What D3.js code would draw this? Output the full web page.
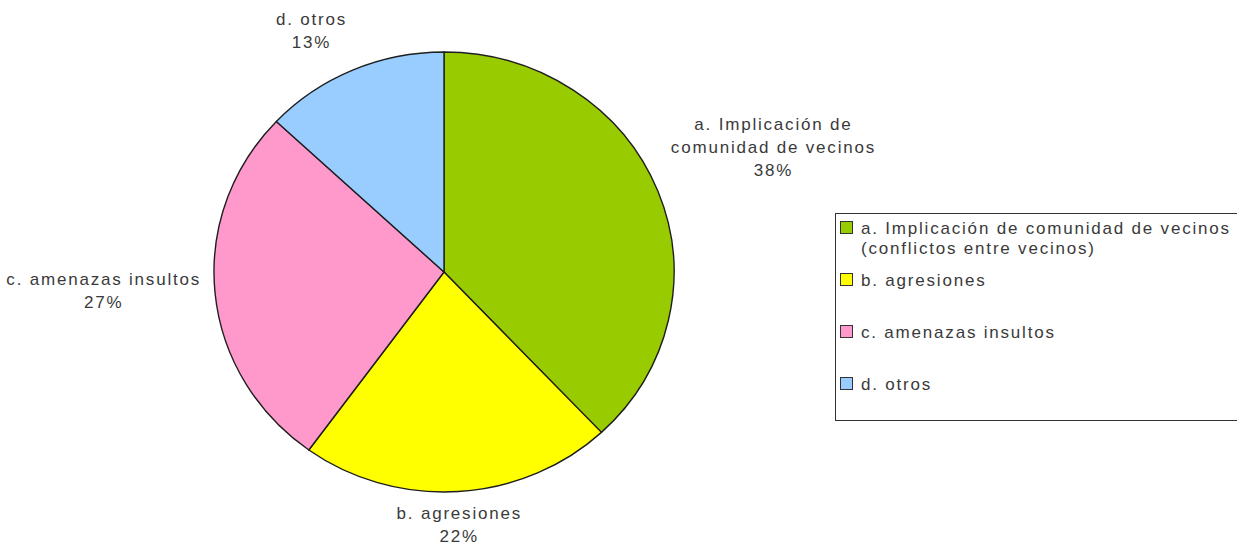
<!DOCTYPE html>
<html>
<head>
<meta charset="utf-8">
<script src="https://cdn.jsdelivr.net/npm/d3@7"></script>
<style>
  html, body { margin: 0; padding: 0; background: #ffffff; }
  svg { display: block; }
  text { font-family: "Liberation Sans", Arial, sans-serif; font-size: 17px; letter-spacing: 1.8px; fill: #3a3a3a; }
</style>
</head>
<body>
<svg id="chart" width="1237" height="551"></svg>
<script>
// ---- data ----
const categories = ["a", "b", "c", "d"];
const values = [38, 22, 27, 13];
const sliceLabels = [
  ["a. Implicación de", "comunidad de vecinos"],
  ["b. agresiones"],
  ["c. amenazas insultos"],
  ["d. otros"]
];
const legendLabels = [
  ["a. Implicación de comunidad de vecinos", "(conflictos entre vecinos)"],
  ["b. agresiones"],
  ["c. amenazas insultos"],
  ["d. otros"]
];
const colors = ["#99cc00", "#ffff00", "#ff99cc", "#99ccff"];

// ---- layout ----
const W = 1237, H = 551;
const cx = 444, cy = 272, rx = 230, ry = 220;
const svg = d3.select("#chart");

const total = d3.sum(values);
const pie = d3.pie().sort(null).value(d => d)(values);
const arc = d3.arc().innerRadius(0).outerRadius(ry);
const color = d3.scaleOrdinal().domain(categories).range(colors);

const g = svg.append("g").attr("transform", `translate(${cx},${cy}) scale(${rx / ry},1)`);
g.selectAll("path").data(pie).enter().append("path")
  .attr("d", arc)
  .attr("fill", (d, i) => color(categories[i]))
  .attr("stroke", "#1e1e1e")
  .attr("stroke-width", 1.4)
  .attr("stroke-linejoin", "round")
  .attr("vector-effect", "non-scaling-stroke");

// ---- slice labels ----
const lineH = 23, gap = 14, k = 4, dead = 0.1, lift = 4;
const push = v => Math.sign(v) * Math.max(0, Math.min(1, (Math.abs(v) - dead) * k));
pie.forEach((d, i) => {
  const lines = sliceLabels[i].concat([Math.round(values[i] / total * 100) + "%"]);
  const t = svg.append("text").attr("text-anchor", "middle");
  lines.forEach((l, j) => t.append("tspan").attr("x", 0).attr("y", j * lineH).text(l));
  const bb = t.node().getBBox();
  const halfW = bb.width / 2, halfH = lines.length * lineH / 2;
  const a = (d.startAngle + d.endAngle) / 2;
  const s = Math.sin(a), c = Math.cos(a);
  const ax = cx + (rx + gap) * s, ay = cy - (ry + gap) * c;
  const lx = ax + halfW * push(s);
  const ly = ay - halfH * push(c) - lift;
  t.selectAll("tspan")
    .attr("x", lx)
    .attr("y", (l, j) => ly + (j - (lines.length - 1) / 2) * lineH + 6);
});

// ---- legend ----
const lg = svg.append("g");
lg.append("rect")
  .attr("x", 835.5).attr("y", 213.5).attr("width", 420).attr("height", 207)
  .attr("fill", "none").attr("stroke", "#333").attr("stroke-width", 1);

const rowY = d3.scaleLinear().domain([0, 1]).range([234, 286]);
legendLabels.forEach((lines, i) => {
  const base = rowY(i);
  lg.append("rect")
    .attr("x", 840.5).attr("y", base - 12.5).attr("width", 12).attr("height", 12)
    .attr("fill", color(categories[i])).attr("stroke", "#333").attr("stroke-width", 1);
  const t = lg.append("text");
  lines.forEach((l, j) => t.append("tspan").attr("x", 861).attr("y", base + j * 20).text(l));
});
</script>
</body>
</html>
